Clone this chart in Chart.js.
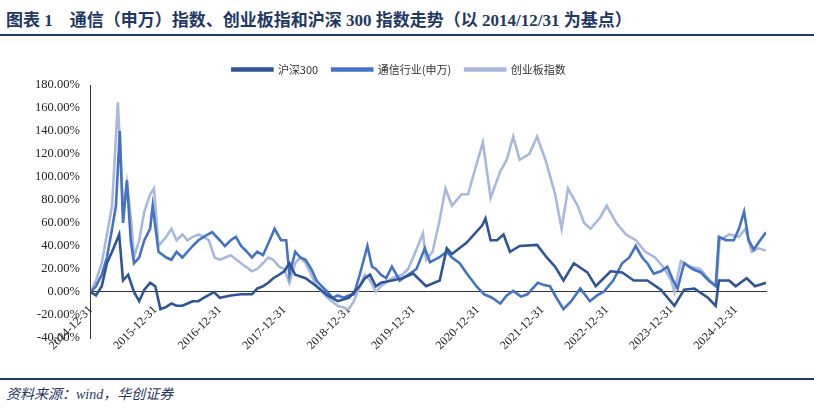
<!DOCTYPE html>
<html><head><meta charset="utf-8">
<script src="https://cdn.jsdelivr.net/npm/chart.js@4"></script>
<style>
body{margin:0;width:814px;height:409px;background:#fff;position:relative;overflow:hidden;font-family:"Liberation Serif","Noto Sans CJK SC",serif}
#title{position:absolute;left:6px;top:6px;font-size:17px;font-weight:bold;color:#1F3864;font-family:"Liberation Serif","Noto Sans CJK SC";white-space:pre}
.rule{position:absolute;left:0;width:814px;height:2px;background:#1F3864}
#src{position:absolute;left:6px;top:383px;font-size:14px;font-style:italic;color:#1F3864;font-family:"Liberation Serif","Noto Sans CJK SC"}
#wrap{position:absolute;left:0;top:40px;width:814px;height:338px}
</style></head><body>
<div id="title">图表 1    通信（申万）指数、创业板指和沪深 300 指数走势（以 2014/12/31 为基点）</div>
<div class="rule" style="top:34px"></div>
<div id="wrap"><canvas id="c"></canvas></div>
<div class="rule" style="top:378px"></div>
<div id="src">资料来源：wind，华创证券</div>
<script>
const seriesNames=["通信行业(申万)","沪深300","创业板指数"];
const yearTicks=[2015,2016,2017,2018,2019,2020,2021,2022,2023,2024,2025];
const commT=[2015,2015.08,2015.17,2015.25,2015.33,2015.39,2015.45,2015.5,2015.56,2015.62,2015.67,2015.75,2015.83,2015.92,2015.96,2016.05,2016.17,2016.25,2016.33,2016.42,2016.5,2016.58,2016.67,2016.75,2016.88,2017,2017.08,2017.17,2017.25,2017.33,2017.42,2017.5,2017.58,2017.67,2017.75,2017.85,2017.95,2018.03,2018.08,2018.17,2018.25,2018.33,2018.42,2018.5,2018.58,2018.67,2018.75,2018.83,2018.92,2019,2019.08,2019.17,2019.29,2019.36,2019.42,2019.5,2019.58,2019.67,2019.79,2019.92,2020.05,2020.18,2020.26,2020.4,2020.52,2020.6,2020.72,2020.83,2020.98,2021.1,2021.22,2021.35,2021.45,2021.55,2021.67,2021.77,2021.93,2022.03,2022.12,2022.22,2022.33,2022.45,2022.59,2022.74,2022.85,2022.95,2023.1,2023.24,2023.35,2023.45,2023.55,2023.63,2023.73,2023.84,2023.94,2024.03,2024.1,2024.2,2024.33,2024.46,2024.58,2024.69,2024.74,2024.85,2024.97,2025.05,2025.13,2025.2,2025.28,2025.38,2025.47];
const commV=[0,5,15,30,55,75,140,60,97,45,25,30,45,55,75,35,30,28,35,30,35,40,45,48,52,45,40,45,48,40,35,30,35,32,42,55,45,45,15,35,30,28,20,10,5,0,-5,-3,-5,-3,-2,15,40,22,20,15,12,22,10,15,20,38,26,30,35,30,25,16,5,-2,-5,-10,-3,1,-4,-2,8,6,5,-5,-15,-8,3,-8,-3,0,10,25,30,40,30,25,16,18,22,10,3,25,20,17,10,5,48,45,45,55,70,45,37,45,52];
const hsT=[2015,2015.08,2015.17,2015.25,2015.33,2015.44,2015.5,2015.58,2015.67,2015.75,2015.83,2015.92,2016,2016.08,2016.17,2016.25,2016.33,2016.42,2016.5,2016.58,2016.67,2016.75,2016.91,2017,2017.17,2017.33,2017.5,2017.58,2017.67,2017.75,2017.83,2017.92,2018,2018.08,2018.17,2018.33,2018.5,2018.67,2018.83,2019,2019.17,2019.25,2019.33,2019.42,2019.5,2019.67,2019.83,2020,2020.2,2020.41,2020.52,2020.6,2020.83,2021.07,2021.12,2021.2,2021.3,2021.4,2021.5,2021.65,2021.92,2022.07,2022.2,2022.33,2022.49,2022.7,2022.83,2023.06,2023.24,2023.42,2023.63,2023.84,2024.05,2024.2,2024.36,2024.57,2024.69,2024.74,2024.9,2025.0,2025.17,2025.3,2025.47];
const hsV=[0,-3,5,25,35,50,10,15,0,-8,2,8,5,-15,-13,-10,-12,-12,-10,-8,-8,-5,0,-5,-3,-2,-2,3,5,8,12,15,18,25,15,12,5,-3,-8,-5,5,12,15,5,8,10,12,16,5,10,38,33,43,58,64,45,45,50,35,40,41,30,22,10,25,17,5,18,17,10,10,2,-12,2,3,-5,-12,10,10,5,12,5,8];
const cyT=[2015,2015.08,2015.17,2015.25,2015.33,2015.42,2015.5,2015.56,2015.63,2015.67,2015.75,2015.83,2015.92,2015.98,2016.05,2016.17,2016.25,2016.33,2016.42,2016.5,2016.58,2016.67,2016.75,2016.83,2016.92,2017,2017.17,2017.33,2017.5,2017.58,2017.67,2017.75,2017.83,2017.92,2018,2018.08,2018.17,2018.25,2018.33,2018.42,2018.5,2018.67,2018.83,2019,2019.08,2019.17,2019.25,2019.33,2019.42,2019.5,2019.67,2019.83,2019.92,2020,2020.15,2020.2,2020.3,2020.4,2020.5,2020.6,2020.75,2020.85,2020.95,2021.08,2021.2,2021.35,2021.45,2021.55,2021.65,2021.8,2021.92,2022.05,2022.2,2022.3,2022.4,2022.55,2022.65,2022.75,2022.9,2023,2023.15,2023.3,2023.45,2023.6,2023.75,2023.9,2024,2024.05,2024.15,2024.3,2024.45,2024.6,2024.7,2024.75,2024.9,2025.05,2025.15,2025.25,2025.35,2025.47];
const cyV=[0,10,25,50,75,165,70,95,60,30,45,70,85,90,40,48,55,45,50,45,48,50,48,45,30,28,32,25,18,20,25,30,28,22,20,8,25,30,25,15,5,-5,-12,-15,-8,5,15,10,0,5,12,15,20,30,51,28,35,60,90,75,85,85,105,130,82,105,115,135,115,120,135,115,85,55,90,75,60,55,65,75,60,50,45,35,30,20,10,0,27,22,20,10,5,45,50,48,55,35,38,36];
const pts=(t,v)=>t.map((x,i)=>({x:x,y:v[i]}));
const colors=["#4472C4","#2F5597","#A9B8DE"];
const data=[pts(commT,commV),pts(hsT,hsV),pts(cyT,cyV)];
new Chart(document.getElementById('c'),{
type:'line',
data:{datasets:[0,1,2].map(i=>({label:seriesNames[i],data:data[i],borderColor:colors[i],backgroundColor:colors[i],borderWidth:2.6,pointRadius:0,tension:0,order:i===2?3:(i===0?2:1)}))},
options:{responsive:true,maintainAspectRatio:false,animation:false,
layout:{padding:{left:32,right:48,top:10,bottom:40}},
plugins:{legend:{position:'top',labels:{boxWidth:40,boxHeight:2,color:'#333',font:{family:'"Noto Sans CJK SC"',size:11},padding:14}},tooltip:{enabled:false}},
scales:{
x:{type:'linear',min:2015,max:2025.47,position:{y:0},grid:{display:false,drawTicks:true},border:{color:'#333'},
 afterFit:s=>{s.height=10;},
 afterBuildTicks:a=>{a.ticks=yearTicks.map(v=>({value:v}));},
 ticks:{autoSkip:false,maxRotation:45,minRotation:45,color:'#222',font:{family:'"Liberation Serif"',size:12},callback:v=>(v-1)+'-12-31'}},
y:{min:-40,max:180,grid:{display:false},border:{color:'#333'},
 ticks:{stepSize:20,color:'#222',font:{family:'"Liberation Serif"',size:12.5},callback:v=>v.toFixed(2)+'%'}}
}}});
</script>
</body></html>
